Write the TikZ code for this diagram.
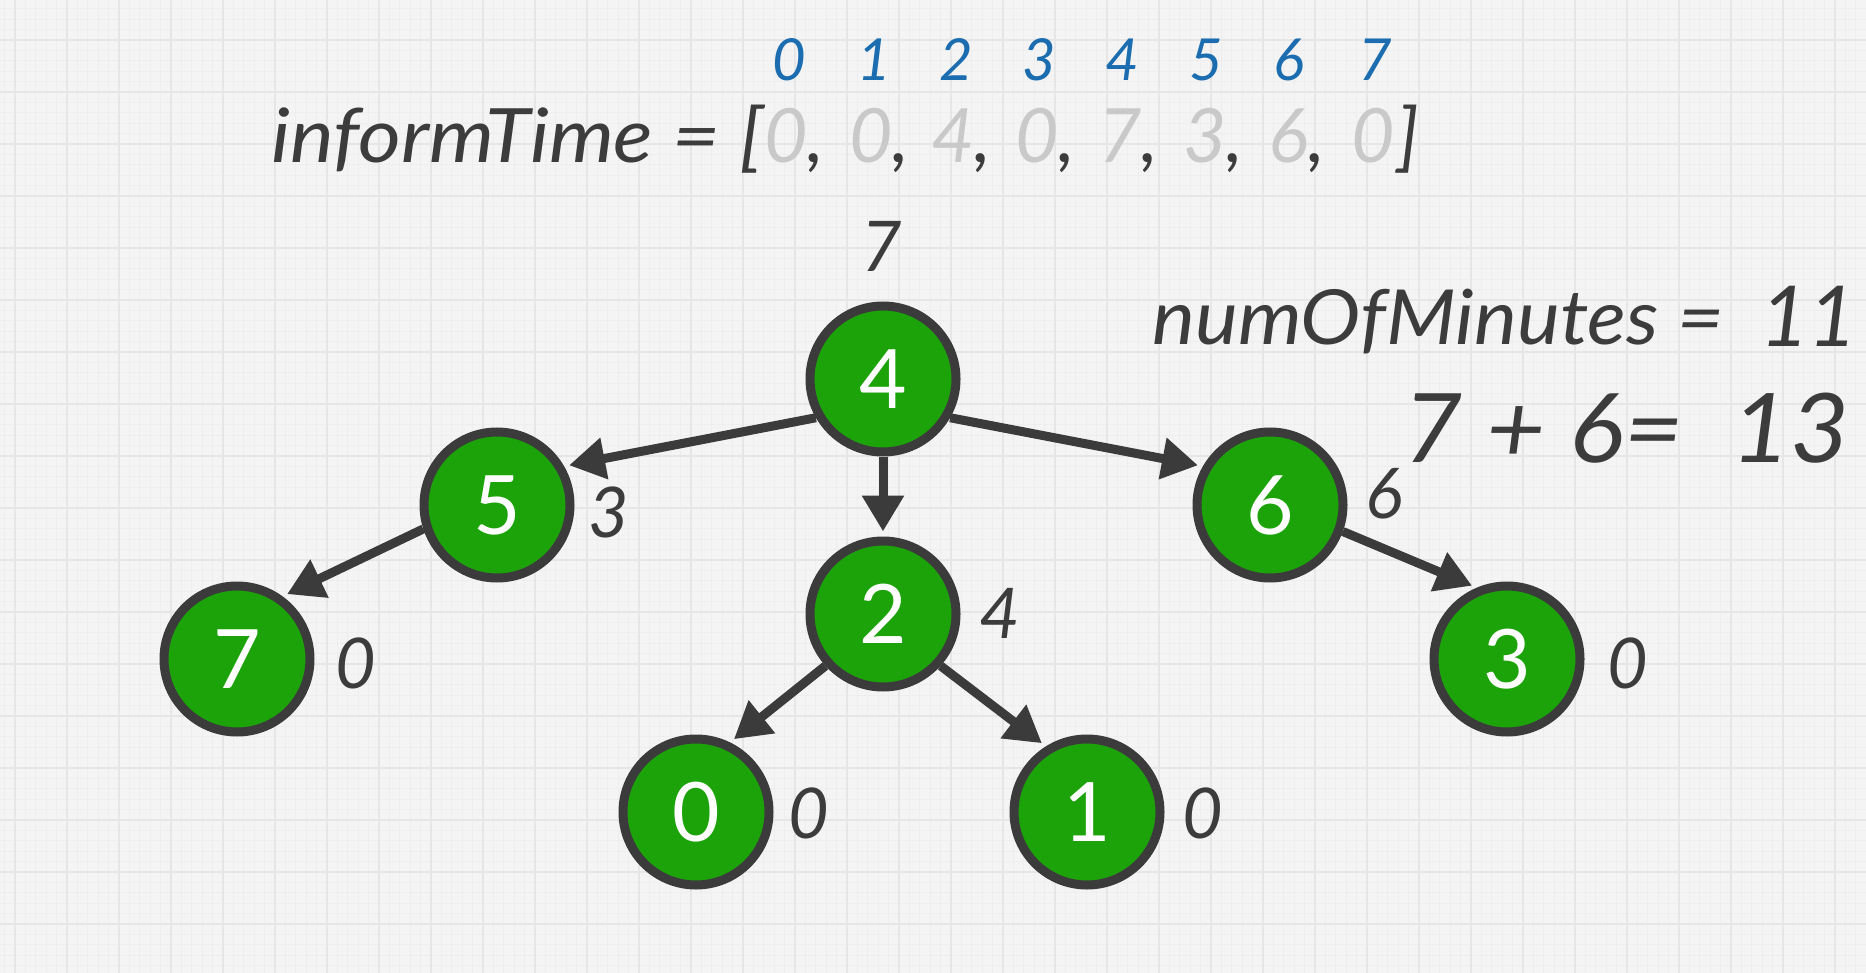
\documentclass[tikz,border=0pt]{standalone}
\usepackage{fontspec}
\setmainfont{Lato}
\newfontfamily\widefont[FakeStretch=1.1]{Lato}
\newfontfamily\midfont[FakeStretch=1.065]{Lato}
\usetikzlibrary{arrows.meta}
\definecolor{bgcol}{HTML}{F4F4F4}
\definecolor{gridmaj}{HTML}{E6E6E6}
\definecolor{gridmin}{HTML}{EEEEEE}
\definecolor{ngreen}{HTML}{1DA30A}
\definecolor{edgecol}{HTML}{3B3B3B}
\definecolor{txt}{HTML}{3C3C3C}
\definecolor{graytxt}{HTML}{C9C9C9}
\definecolor{idxblue}{HTML}{1B6DB0}
\newcommand{\gd}[1]{{\color{graytxt}#1}}
\begin{document}
\begin{tikzpicture}[x=1pt,y=-1pt,
  treenode/.style={circle,fill=ngreen,draw=edgecol,line width=9pt,minimum size=146pt,inner sep=0pt,text=white,font=\fontsize{82}{90}\selectfont},
  tlabel/.style={text=txt,font=\fontsize{70}{80}\selectfont\itshape},
  idx/.style={text=idxblue,anchor=base,inner sep=0pt,font=\fontsize{58}{66}\selectfont\itshape},
  arr/.style={text=txt,anchor=base west,inner sep=0pt,font=\fontsize{75}{85}\selectfont\itshape},
  edge/.style={draw=edgecol,line width=9pt,-{Triangle[length=36pt,width=40pt]},shorten >=5pt}]
\useasboundingbox (0,0) rectangle (1866,973);
\fill[bgcol] (0,0) rectangle (1866,973);
\foreach \x in {4.6,15.0,...,1866} \draw[gridmin,line width=0.8pt] (\x,0) -- (\x,973);
\foreach \y in {8.8,19.2,...,973} \draw[gridmin,line width=0.8pt] (0,\y) -- (1866,\y);
\foreach \x in {15,67,...,1866} \draw[gridmaj,line width=2.5pt] (\x,0) -- (\x,973);
\foreach \y in {40,92,...,973} \draw[gridmaj,line width=2.5pt] (0,\y) -- (1866,\y);

% index row
\node[idx] (i0) at (789,81) {0};
\node[idx] (i1) at (874,81) {1};
\node[idx] (i2) at (956,81) {2};
\node[idx] (i3) at (1039,81) {3};
\node[idx] (i4) at (1122,81) {4};
\node[idx] (i5) at (1206,81) {5};
\node[idx] (i6) at (1289,81) {6};
\node[idx] (i7) at (1375,81) {7};

% informTime array
\node[text=txt,anchor=base east,inner sep=0pt,font=\fontsize{75}{85}\widefont\itshape] (lhs) at (764,163) {informTime = [};
\node[arr] (v0) at (764,163) {\gd{0},};
\node[arr] (v1) at (849,163) {\gd{0},};
\node[arr] (v2) at (931,163) {\gd{4},};
\node[arr] (v3) at (1015,163) {\gd{0},};
\node[arr] (v4) at (1098,163) {\gd{7},};
\node[arr] (v5) at (1183,163) {\gd{3},};
\node[arr] (v6) at (1268,163) {\gd{6},};
\node[arr] (v7) at (1351,163) {\gd{0}\kern3pt]};

% tree nodes
\node[treenode] (n4) at (883,379) {4};
\node[treenode] (n5) at (497,505) {5};
\node[treenode] (n6) at (1270,505) {6};
\node[treenode] (n2) at (883,614) {2};
\node[treenode] (n7) at (237,659) {7};
\node[treenode] (n3) at (1507,659) {3};
\node[treenode] (n0) at (696,812) {0};
\node[treenode] (n1) at (1087,812) {1};

% time labels
\node[tlabel] (t4) at (882,246) {7};
\node[tlabel] (t5) at (609,512) {3};
\node[tlabel] (t2) at (1000,613) {4};
\node[tlabel] (t6) at (1384,494) {6};
\node[tlabel] (t7) at (356,663) {0};
\node[tlabel] (t0) at (809,813) {0};
\node[tlabel] (t1) at (1203,813) {0};
\node[tlabel] (t3) at (1628,663) {0};

% edges
\draw[edge] (n4.210) -- (n5.30);
\draw[edge] (n4.-30) -- (n6.150);
\draw[edge] (n4.south) -- (n2.north);
\draw[edge] (n5.198) -- (n7.54);
\draw[edge] (n2.222) -- (n0.64);
\draw[edge] (n2.-42) -- (n1.122);
\draw[edge] (n6.-20) -- (n3.113);

% result texts
\node[text=txt,anchor=base west,inner sep=0pt,font=\fontsize{76}{86}\midfont\itshape] (nm) at (1152,345) {numOfMinutes =};
\node[text=txt,anchor=base west,inner sep=0pt,font=\fontsize{84}{94}\selectfont\itshape] (nv) at (1760,347) {11};
\node[text=txt,anchor=base east,inner sep=0pt,font=\fontsize{96}{106}\midfont\itshape] (sum) at (1850,462) {7 + 6=\ \ 13};
\end{tikzpicture}
\end{document}
